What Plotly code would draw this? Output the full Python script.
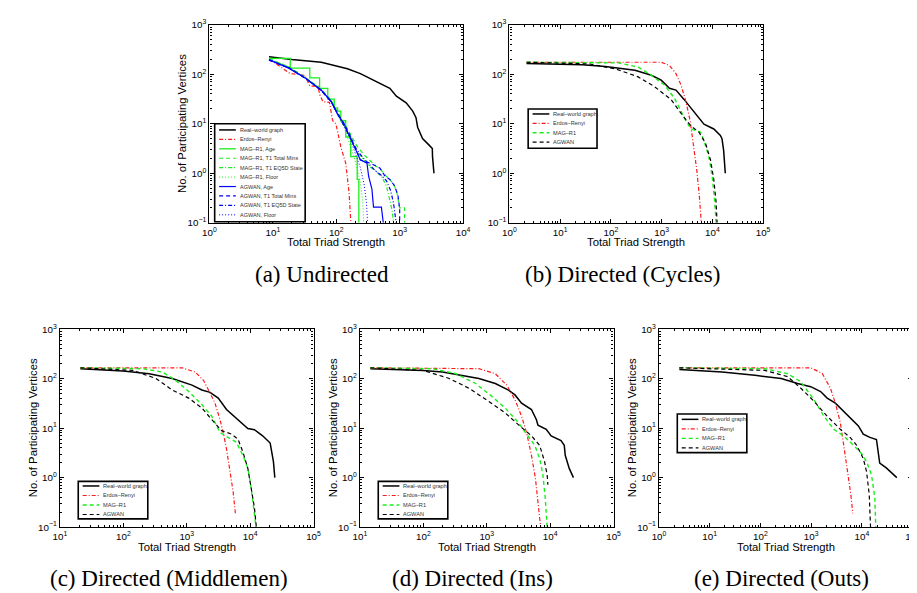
import plotly.graph_objects as go

# ---------------- data ----------------
# (a) Undirected
A_REAL_X = [8.7, 11.7, 19.9, 58, 150, 240, 387, 552, 700, 888, 1268, 1608, 1811, 1922, 2296, 2911, 3276, 3300, 3476]
A_REAL_Y = [226, 213, 198, 175, 129, 103, 76, 61, 52, 36, 26.4, 18, 13.3, 8.5, 5, 3.7, 3.16, 2.17, 1.0]
A_ER_X = [8.7, 18.8, 23.8, 32, 38.2, 51.5, 55, 61.5, 78, 87.8, 98.8, 105, 118, 141, 159, 170]
A_ER_Y = [204, 103, 100, 95, 58, 57, 38.5, 28, 27, 11.5, 10, 6.7, 3.4, 1.6, 0.41, 0.1]
A_MAG_AGE_X = [8.7, 18.8, 38.2, 54.6, 73.5, 93, 105, 118, 141, 169, 214, 227]
A_MAG_AGE_Y = [210, 133, 84.7, 52, 31.6, 21, 18, 11.5, 5.4, 2.17, 0.75, 0.1]
A_MAG_TM_X = [8.7, 18, 32, 58, 83, 105, 133, 165, 210, 270, 340, 420, 500, 600, 700, 800, 890, 1000, 1195, 1195]
A_MAG_TM_Y = [205, 140, 88, 50, 30, 17, 10.5, 6.2, 3.6, 2.4, 1.8, 1.4, 1.2, 0.9, 0.75, 0.6, 0.45, 0.2, 0.2, 0.1]
A_MAG_EQ_X = [8.7, 18, 32, 58, 83, 105, 133, 165, 210, 270, 340, 420, 520, 620, 700, 760, 800]
A_MAG_EQ_Y = [205, 138, 86, 49, 29, 16, 9.5, 5.2, 2.8, 1.9, 1.35, 1.1, 0.85, 0.55, 0.3, 0.18, 0.1]
A_MAG_FL_X = [8.7, 18, 32, 58, 83, 105, 133, 160, 190, 220, 245, 262, 271]
A_MAG_FL_Y = [205, 138, 86, 49, 29, 16, 8.5, 4.2, 2.2, 1.1, 0.55, 0.25, 0.1]
A_AG_AGE_X = [8.7, 17.7, 32, 58, 83, 105, 133, 169, 201, 240, 305, 324, 365, 387, 515, 552]
A_AG_AGE_Y = [198, 133, 85, 48, 28.5, 15.5, 9.8, 5, 2.9, 1.86, 1.6, 0.87, 0.48, 0.207, 0.207, 0.1]
A_AG_TM_X = [8.7, 18, 32, 58, 83, 105, 133, 165, 200, 240, 344, 490, 587, 700, 837, 942, 1000, 1000]
A_AG_TM_Y = [195, 135, 85, 47, 28, 16, 10, 5.8, 3.2, 1.86, 1.6, 1.27, 0.87, 0.75, 0.55, 0.35, 0.19, 0.1]
A_AG_EQ_X = [8.7, 18, 32, 58, 83, 105, 133, 165, 210, 270, 340, 420, 520, 620, 720, 800, 880]
A_AG_EQ_Y = [192, 134, 84, 47, 28, 16, 9.5, 5.4, 3.0, 2.0, 1.45, 1.1, 0.9, 0.7, 0.45, 0.25, 0.1]
A_AG_FL_X = [8.7, 18, 32, 58, 83, 105, 133, 165, 200, 240, 275, 300, 312]
A_AG_FL_Y = [195, 135, 85, 47, 28, 16, 9.2, 5, 2.6, 1.3, 0.6, 0.25, 0.1]

# (b) Directed (Cycles)
B_REAL_X = [2.17, 27.4, 78, 298, 628, 982, 1426, 1921, 2790, 3760, 5070, 6830, 10680, 14390, 15500, 16700, 18000]
B_REAL_Y = [165, 155, 144, 120, 95.5, 76, 52, 48, 30.7, 21, 14.4, 9.8, 7.85, 5.8, 5, 2.9, 1]
B_ER_X = [2.17, 982, 1426, 1921, 2404, 3006, 3650, 4235, 4920, 5540, 6050]
B_ER_Y = [175, 175, 151, 103, 61, 28.4, 11.5, 4, 1.18, 0.35, 0.1]
B_MAG_X = [2.17, 141, 346, 628, 1140, 1783, 2790, 3760, 5880, 6830, 8540, 9910, 11160, 11850]
B_MAG_Y = [175, 170, 140, 95.5, 60.6, 33, 13.3, 7.85, 6.75, 4.6, 2.17, 0.87, 0.26, 0.1]
B_AG_X = [2.17, 37, 122, 346, 729, 1536, 2790, 3760, 5460, 7360, 9200, 10670, 11850, 12400]
B_AG_Y = [175, 162, 129, 88.5, 56, 30.7, 13.3, 9.1, 6.75, 4, 1.86, 0.75, 0.26, 0.1]

# (c) Directed (Middlemen)
C_REAL_X = [21, 99, 256, 591, 1211, 1730, 2333, 3140, 4236, 6430, 9200, 11670, 15730, 20700, 23300, 24500]
C_REAL_Y = [159, 143, 126, 101, 74, 59, 53, 40.5, 23.8, 15, 9.85, 9.3, 7, 5, 2.1, 1]
C_ER_X = [21, 845, 1364, 1838, 2333, 2790, 3340, 3760, 4240, 4770, 5380, 5850]
C_ER_Y = [166, 166, 136, 93, 51, 32, 15, 8.2, 3.8, 1.54, 0.53, 0.19]
C_MAG_X = [21, 202, 414, 667, 1074, 1730, 2478, 3340, 4500, 6050, 7690, 9200, 10370, 11400, 12390]
C_MAG_Y = [166, 159, 136, 93, 55, 30, 17.5, 8.2, 6.5, 5.2, 2.83, 1.54, 0.62, 0.25, 0.1]
C_AG_X = [21, 141, 326, 591, 1074, 1730, 2478, 3540, 5070, 6430, 7690, 9200, 10370, 11670, 12530]
C_AG_Y = [166, 147, 101, 59, 40.5, 25.6, 15, 8.9, 7.6, 6, 3.3, 1.54, 0.62, 0.25, 0.1]

# (d) Directed (Ins)
D_REAL_X = [14.6, 99, 202, 414, 751, 1364, 2200, 2790, 3540, 5070, 6050, 6430, 8670, 10370, 14830, 16700, 17300, 20000, 23300]
D_REAL_Y = [159, 147, 136, 117, 101, 80, 59, 47, 32, 23.8, 15, 11.5, 9.5, 7, 5.6, 4.5, 2.83, 1.54, 1]
D_ER_X = [14.6, 751, 1364, 2070, 2790, 3540, 4240, 5070, 5850, 6430, 7080]
D_ER_Y = [166, 159, 126, 74, 37.5, 17.5, 8.2, 2.83, 0.98, 0.34, 0.1]
D_MAG_X = [14.6, 141, 326, 667, 1211, 1950, 3140, 4500, 5710, 6830, 7690, 8360, 8970]
D_MAG_Y = [166, 159, 126, 80, 43.6, 25.6, 13, 7, 4.5, 2.43, 1.14, 0.39, 0.1]
D_AG_X = [14.6, 99, 256, 525, 1074, 1950, 3540, 5070, 6830, 8170, 8970, 9200]
D_AG_Y = [166, 147, 101, 64, 34.8, 20.4, 10.3, 7, 4.5, 2.1, 1.14, 0.72]

# (e) Directed (Outs)
E_REAL_X = [2.52, 17.5, 78, 257, 541, 982, 1537, 2070, 3006, 4366, 6340, 8540, 10670, 14390, 19400, 22500, 30300, 48900]
E_REAL_Y = [154, 136, 117, 101, 80, 69, 55, 40.5, 32, 22, 15, 11.1, 7.6, 6.5, 5.9, 1.97, 1.57, 1.0]
E_ER_X = [2.52, 982, 1656, 2404, 3006, 3760, 4500, 5220, 6060, 6630]
E_ER_Y = [166, 166, 128, 64, 32, 13, 3.8, 1.35, 0.46, 0.19]
E_MAG_X = [2.52, 122, 346, 628, 1140, 1783, 2790, 4366, 6830, 9910, 12390, 15500, 18000, 18830]
E_MAG_Y = [166, 159, 126, 86.5, 37.5, 17.5, 9.5, 7, 4.5, 3.05, 2.1, 1.14, 0.39, 0.1]
E_AG_X = [2.52, 122, 346, 628, 1140, 2070, 3760, 5880, 7920, 10670, 12390, 13970, 14830]
E_AG_Y = [166, 147, 110, 64, 35, 17.5, 9.5, 6.5, 4.5, 2.43, 1.32, 0.46, 0.1]

A_NAMES = ["Real–world graph", "Erdos–Renyi", "MAG–R1, Age", "MAG–R1, T1 Total Mins",
           "MAG–R1, T1 EQ5D State", "MAG–R1, Floor", "AGWAN, Age", "AGWAN, T1 Total Mins",
           "AGWAN, T1 EQ5D State", "AGWAN, Floor"]
D_NAMES = ["Real–world graph", "Erdos–Renyi", "MAG–R1", "AGWAN"]
CAPTIONS = ["(a) Undirected", "(b) Directed (Cycles)", "(c) Directed (Middlemen)",
            "(d) Directed (Ins)", "(e) Directed (Outs)"]
X_TITLE = "Total Triad Strength"
Y_TITLE = "No. of Participating Vertices"

# ---------------- styles ----------------
W, H = 917, 593
def fx(p): return p / W
def fy(p): return 1 - p / H

BLACK, RED, GREEN, BLUE = "#000000", "#ff1a1a", "#1aee1a", "#0000ff"
SOLID, DASH, DASHDOT, DOT = "solid", "4px,3px", "4px,2px,1px,2px", "1px,2px"
SANS = "Liberation Sans, Arial, sans-serif"
SERIF = "Liberation Serif, Times New Roman, serif"

# styles: (color, dash, width, shape)
A_STYLES = [(BLACK, SOLID, 1.5, "linear"), (RED, DASHDOT, 1.2, "linear"), (GREEN, SOLID, 1.3, "hv"),
            (GREEN, DASH, 1.2, "linear"), (GREEN, DASHDOT, 1.2, "linear"), (GREEN, DOT, 1.0, "linear"),
            (BLUE, SOLID, 1.2, "linear"), (BLUE, DASH, 1.2, "linear"), (BLUE, DASHDOT, 1.2, "linear"),
            (BLUE, DOT, 1.0, "linear")]
D_STYLES = [(BLACK, SOLID, 1.5, "linear"), (RED, DASHDOT, 1.2, "linear"),
            (GREEN, DASH, 1.4, "linear"), (BLACK, DASH, 1.2, "linear")]

A_SERIES = [(A_REAL_X, A_REAL_Y), (A_ER_X, A_ER_Y), (A_MAG_AGE_X, A_MAG_AGE_Y), (A_MAG_TM_X, A_MAG_TM_Y),
            (A_MAG_EQ_X, A_MAG_EQ_Y), (A_MAG_FL_X, A_MAG_FL_Y), (A_AG_AGE_X, A_AG_AGE_Y),
            (A_AG_TM_X, A_AG_TM_Y), (A_AG_EQ_X, A_AG_EQ_Y), (A_AG_FL_X, A_AG_FL_Y)]

PANELS = [
    dict(box=(197.7, 10, 455.5, 212), xr=[0, 4], series=A_SERIES, names=A_NAMES, styles=A_STYLES,
         ylab=True, ytx=170, leg=(203, 111, 295, 211, 117.3, 9.63), lfs=5.5),
    dict(box=(502.7, 10, 760.5, 212), xr=[0, 5],
         series=[(B_REAL_X, B_REAL_Y), (B_ER_X, B_ER_Y), (B_MAG_X, B_MAG_Y), (B_AG_X, B_AG_Y)],
         names=D_NAMES, styles=D_STYLES, ylab=False, ytx=None, leg=(521.7, 96, 591.7, 136, 101, 9.6), lfs=5.6),
    dict(box=(45.7, 320.7, 303.5, 522.7), xr=[1, 5],
         series=[(C_REAL_X, C_REAL_Y), (C_ER_X, C_ER_Y), (C_MAG_X, C_MAG_Y), (C_AG_X, C_AG_Y)],
         names=D_NAMES, styles=D_STYLES, ylab=True, ytx=18.3, leg=(64.3, 476, 135, 514.3, 480.7, 9.7), lfs=5.6),
    dict(box=(350.7, 320.7, 608.5, 522.7), xr=[1, 5],
         series=[(D_REAL_X, D_REAL_Y), (D_ER_X, D_ER_Y), (D_MAG_X, D_MAG_Y), (D_AG_X, D_AG_Y)],
         names=D_NAMES, styles=D_STYLES, ylab=True, ytx=323.3, leg=(369.3, 476, 440, 514.3, 480.7, 9.7), lfs=5.6),
    dict(box=(654.7, 320.7, 912.5, 522.7), xr=[0, 5],
         series=[(E_REAL_X, E_REAL_Y), (E_ER_X, E_ER_Y), (E_MAG_X, E_MAG_Y), (E_AG_X, E_AG_Y)],
         names=D_NAMES, styles=D_STYLES, ylab=True, ytx=627.3, leg=(673.3, 407.3, 744, 446.7, 412.7, 9.7), lfs=5.6),
]
CAP_POS = [(312.5, 264.5), (617.5, 264.5), (156.7, 575), (465, 575), (779, 575)]

def sup(e):
    return "10<sup>" + (str(e) if e >= 0 else "−" + str(-e)) + "</sup>"

def minor_vals(lo, hi):
    return [m * 10 ** e for e in range(lo, hi) for m in range(2, 10)]

fig = go.Figure()
layout = dict(width=W, height=H, margin=dict(l=0, r=0, t=0, b=0),
              paper_bgcolor="white", plot_bgcolor="white", showlegend=False)
shapes, annotations = [], []

for i, p in enumerate(PANELS):
    sfx = "" if i == 0 else str(i + 1)
    x0, y0, x1, y1 = p["box"]
    common = dict(type="log", showline=True, linecolor="black", linewidth=1.3, mirror="ticks",
                  ticks="inside", ticklen=4, tickcolor="black", tickwidth=1,
                  showgrid=False, zeroline=False,
                  tickfont=dict(family=SANS, size=9.8, color="black"))
    xe = list(range(p["xr"][0], p["xr"][1] + 1))
    layout["xaxis" + sfx] = dict(common, domain=[fx(x0), fx(x1)], range=p["xr"],
                                 anchor="y" + sfx, tickmode="array",
                                 tickvals=[10 ** e for e in xe], ticktext=[sup(e) for e in xe],
                                 minor=dict(tickmode="array", tickvals=minor_vals(p["xr"][0], p["xr"][1]),
                                            ticks="inside", ticklen=2, tickcolor="black"))
    ye = list(range(-1, 4))
    layout["yaxis" + sfx] = dict(common, domain=[fy(y1), fy(y0)], range=[-1, 3],
                                 anchor="x" + sfx, tickmode="array",
                                 tickvals=[10 ** e for e in ye], ticktext=[sup(e) for e in ye],
                                 minor=dict(tickmode="array", tickvals=minor_vals(-1, 3),
                                            ticks="inside", ticklen=2, tickcolor="black"))
    for (xs, ys), name, (col, dash, w, shp) in zip(p["series"], p["names"], p["styles"]):
        fig.add_trace(go.Scatter(x=xs, y=ys, mode="lines", name=name,
                                 line=dict(color=col, dash=dash, width=w, shape=shp),
                                 xaxis="x" + sfx, yaxis="y" + sfx, showlegend=False))
    # axis titles
    annotations.append(dict(text=X_TITLE, x=fx((x0 + x1) / 2), y=fy(y1 + 20), xref="paper", yref="paper",
                            showarrow=False, xanchor="center", yanchor="middle",
                            font=dict(family=SANS, size=11.3, color="black")))
    if p["ylab"]:
        annotations.append(dict(text=Y_TITLE, x=fx(p["ytx"]), y=fy((y0 + y1) / 2), xref="paper", yref="paper",
                                showarrow=False, textangle=-90, xanchor="center", yanchor="middle",
                                font=dict(family=SANS, size=11.3, color="black")))
    # legend box
    lx0, ly0, lx1, ly1, first, step = p["leg"]
    shapes.append(dict(type="rect", xref="paper", yref="paper", x0=fx(lx0), x1=fx(lx1), y0=fy(ly1), y1=fy(ly0),
                       line=dict(color="black", width=1.6), fillcolor="white", layer="above"))
    for k, (name, (col, dash, w, shp)) in enumerate(zip(p["names"], p["styles"])):
        yy = first + k * step
        shapes.append(dict(type="line", xref="paper", yref="paper", x0=fx(lx0 + 4.5), x1=fx(lx0 + 21.5),
                           y0=fy(yy), y1=fy(yy), line=dict(color=col, dash=dash, width=w), layer="above"))
        annotations.append(dict(text=name, x=fx(lx0 + 23.5), y=fy(yy), xref="paper", yref="paper",
                                showarrow=False, xanchor="left", yanchor="middle",
                                font=dict(family=SANS, size=p["lfs"], color="#333333")))

for cap, (cx, cy) in zip(CAPTIONS, CAP_POS):
    annotations.append(dict(text=cap, x=fx(cx), y=fy(cy), xref="paper", yref="paper", showarrow=False,
                            xanchor="center", yanchor="middle", font=dict(family=SERIF, size=23, color="black")))

layout["shapes"] = shapes
layout["annotations"] = annotations
fig.update_layout(**layout)
fig.write_html("out.html")
